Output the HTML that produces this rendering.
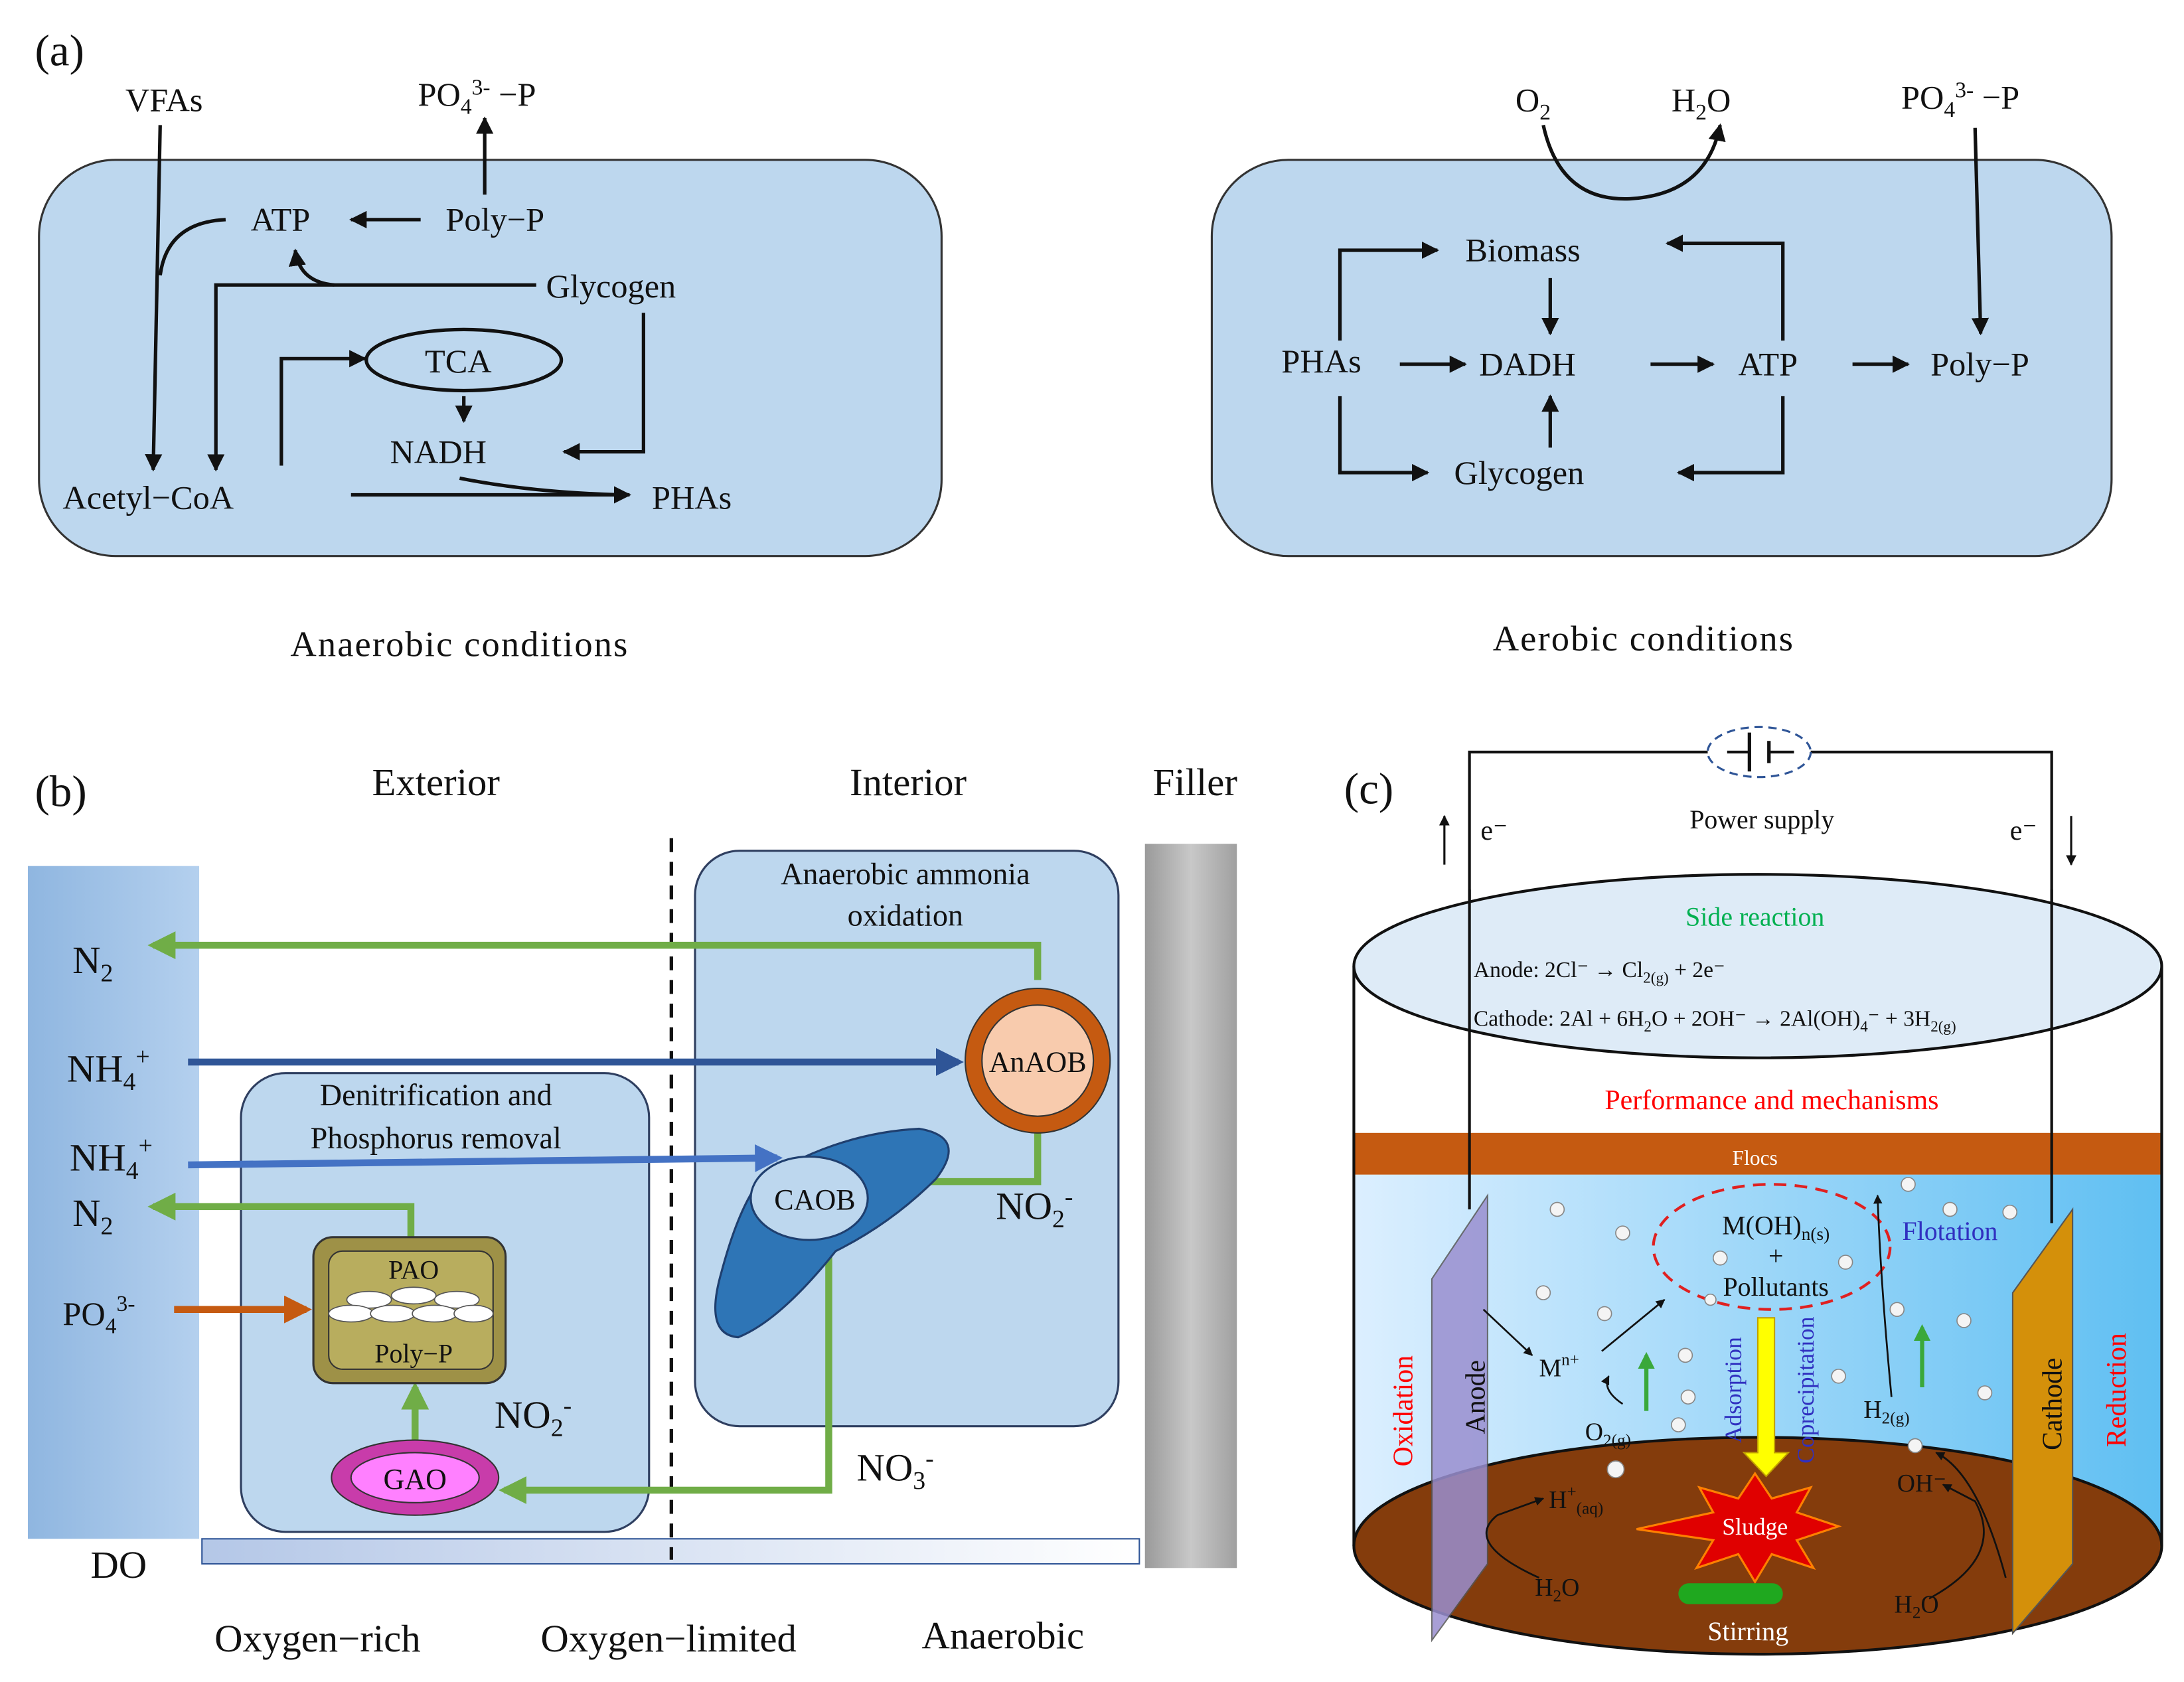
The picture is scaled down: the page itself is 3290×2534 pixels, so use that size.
<!DOCTYPE html>
<html><head><meta charset="utf-8"><style>
html,body{margin:0;padding:0;background:#fff}
svg{display:block}
text{font-family:"Liberation Serif",serif;fill:#111}
</style></head><body>
<svg width="3290" height="2534" viewBox="0 0 1568 1210" preserveAspectRatio="none" xmlns="http://www.w3.org/2000/svg">
<defs>
<marker id="ak" viewBox="0 0 10 10" refX="9" refY="5" markerWidth="5" markerHeight="5" orient="auto"><path d="M0,0L10,5L0,10z" fill="#111"/></marker>
<marker id="ag" viewBox="0 0 10 10" refX="8" refY="5" markerWidth="4" markerHeight="4" orient="auto"><path d="M0,0L10,5L0,10z" fill="#70ad47"/></marker>
<marker id="ab" viewBox="0 0 10 10" refX="8" refY="5" markerWidth="4" markerHeight="4" orient="auto"><path d="M0,0L10,5L0,10z" fill="#2f5597"/></marker>
<marker id="ab2" viewBox="0 0 10 10" refX="8" refY="5" markerWidth="4" markerHeight="4" orient="auto"><path d="M0,0L10,5L0,10z" fill="#4472c4"/></marker>
<marker id="ao" viewBox="0 0 10 10" refX="8" refY="5" markerWidth="4" markerHeight="4" orient="auto"><path d="M0,0L10,5L0,10z" fill="#c55a11"/></marker>
<marker id="agr" viewBox="0 0 10 10" refX="8" refY="5" markerWidth="4" markerHeight="4" orient="auto"><path d="M0,0L10,5L0,10z" fill="#3aa83a"/></marker>
<linearGradient id="lb" x1="0" x2="1"><stop offset="0" stop-color="#8fb6e0"/><stop offset="1" stop-color="#b4d0ee"/></linearGradient>
<linearGradient id="gr" x1="0" x2="1"><stop offset="0" stop-color="#9a9a9a"/><stop offset="0.5" stop-color="#c8c8c8"/><stop offset="1" stop-color="#a0a0a0"/></linearGradient>
<linearGradient id="do" x1="0" x2="1"><stop offset="0" stop-color="#b4c7e7"/><stop offset="1" stop-color="#ffffff"/></linearGradient>
<linearGradient id="wa" x1="0" x2="1"><stop offset="0" stop-color="#dcefff"/><stop offset="1" stop-color="#5fbff2"/></linearGradient>
</defs>

<!-- Panel a -->
<text x="25" y="47" font-size="32">(a)</text>
<rect x="28" y="115" width="648" height="285" rx="55" fill="#bdd7ee" stroke="#333" stroke-width="1.5"/>
<rect x="870" y="115" width="646" height="285" rx="55" fill="#bdd7ee" stroke="#333" stroke-width="1.5"/>
<g font-size="24">
<text x="90" y="80">VFAs</text>
<text x="300" y="76">PO<tspan font-size="16" dy="6">4</tspan><tspan font-size="16" dy="-14">3-</tspan><tspan dy="8"> −P</tspan></text>
<text x="180" y="166">ATP</text>
<text x="320" y="166">Poly−P</text>
<text x="392" y="214">Glycogen</text>
<text x="305" y="268">TCA</text>
<text x="280" y="333">NADH</text>
<text x="45" y="366">Acetyl−CoA</text>
<text x="468" y="366">PHAs</text>
</g>
<ellipse cx="333" cy="259" rx="70" ry="22" fill="none" stroke="#111" stroke-width="2.5"/>
<g stroke="#111" stroke-width="2.5" fill="none" marker-end="url(#ak)">
<path d="M115,90 L110,338"/>
<path d="M348,140 L348,85"/>
<path d="M302,158 L252,158"/>
<path d="M385,205 L155,205 L155,338"/>
<path d="M240,205 Q215,203 212,180"/>
<path d="M462,225 L462,325 L405,325"/>
<path d="M202,335 L202,258 L262,258"/>
<path d="M333,285 L333,303"/>
<path d="M252,356 L452,356"/>
</g>
<path d="M330,344 Q380,354 445,356" stroke="#111" stroke-width="2.5" fill="none"/>
<path d="M162,158 Q120,160 115,198" stroke="#111" stroke-width="2.5" fill="none"/>
<text x="330" y="472" font-size="26" text-anchor="middle" letter-spacing="1">Anaerobic conditions</text>
<text x="1180" y="468" font-size="26" text-anchor="middle" letter-spacing="1">Aerobic conditions</text>

<g font-size="24">
<text x="1088" y="80">O<tspan font-size="16" dy="6">2</tspan></text>
<text x="1200" y="80">H<tspan font-size="16" dy="6">2</tspan><tspan dy="-6">O</tspan></text>
<text x="1365" y="78">PO<tspan font-size="16" dy="6">4</tspan><tspan font-size="16" dy="-14">3-</tspan><tspan dy="8"> −P</tspan></text>
<text x="1052" y="188">Biomass</text>
<text x="1062" y="270">DADH</text>
<text x="1248" y="270">ATP</text>
<text x="1386" y="270">Poly−P</text>
<text x="920" y="268">PHAs</text>
<text x="1044" y="348">Glycogen</text>
</g>
<g stroke="#111" stroke-width="2.5" fill="none" marker-end="url(#ak)">
<path d="M1108,90 Q1120,145 1170,143 Q1225,140 1235,90"/>
<path d="M1418,92 L1422,240"/>
<path d="M1005,262 L1052,262"/>
<path d="M1185,262 L1230,262"/>
<path d="M1330,262 L1370,262"/>
<path d="M1113,200 L1113,240"/>
<path d="M1113,322 L1113,285"/>
<path d="M962,245 L962,180 L1032,180"/>
<path d="M1280,245 L1280,175 L1197,175"/>
<path d="M962,285 L962,340 L1025,340"/>
<path d="M1280,285 L1280,340 L1205,340"/>
</g>

<!-- Panel b -->
<text x="25" y="580" font-size="32">(b)</text>
<g font-size="28">
<text x="313" y="572" text-anchor="middle">Exterior</text>
<text x="652" y="572" text-anchor="middle">Interior</text>
<text x="858" y="572" text-anchor="middle">Filler</text>
<text x="65" y="1135">DO</text>
<text x="228" y="1188" text-anchor="middle">Oxygen−rich</text>
<text x="480" y="1188" text-anchor="middle">Oxygen−limited</text>
<text x="720" y="1186" text-anchor="middle">Anaerobic</text>
</g>
<rect x="20" y="623" width="123" height="484" fill="url(#lb)"/>
<rect x="822" y="607" width="66" height="521" fill="url(#gr)"/>
<rect x="145" y="1107" width="673" height="18" fill="url(#do)" stroke="#2f5597" stroke-width="1"/>
<line x1="482" y1="603" x2="482" y2="1122" stroke="#111" stroke-width="2.5" stroke-dasharray="10,7"/>
<rect x="499" y="612" width="304" height="414" rx="32" fill="#bdd7ee" stroke="#2f3f60" stroke-width="1.5"/>
<rect x="173" y="772" width="293" height="330" rx="32" fill="#bdd7ee" stroke="#2f3f60" stroke-width="1.5"/>
<g font-size="22" text-anchor="middle">
<text x="650" y="636">Anaerobic ammonia</text>
<text x="650" y="666">oxidation</text>
<text x="313" y="795">Denitrification and</text>
<text x="313" y="826">Phosphorus removal</text>
</g>
<g font-size="28">
<text x="52" y="700">N<tspan font-size="18" dy="6">2</tspan></text>
<text x="48" y="778">NH<tspan font-size="18" dy="6">4</tspan><tspan font-size="18" dy="-18">+</tspan></text>
<text x="50" y="842">NH<tspan font-size="18" dy="6">4</tspan><tspan font-size="18" dy="-18">+</tspan></text>
<text x="52" y="882">N<tspan font-size="18" dy="6">2</tspan></text>
<text x="45" y="953" font-size="24">PO<tspan font-size="16" dy="6">4</tspan><tspan font-size="16" dy="-16">3-</tspan></text>
<text x="715" y="877">NO<tspan font-size="18" dy="6">2</tspan><tspan font-size="18" dy="-16">-</tspan></text>
<text x="355" y="1027">NO<tspan font-size="18" dy="6">2</tspan><tspan font-size="18" dy="-16">-</tspan></text>
<text x="615" y="1065">NO<tspan font-size="18" dy="6">3</tspan><tspan font-size="18" dy="-16">-</tspan></text>
</g>
<g fill="none" stroke-width="5">
<path d="M745,705 L745,680 L110,680" stroke="#70ad47" marker-end="url(#ag)"/>
<path d="M135,764 L688,764" stroke="#2f5597" marker-end="url(#ab)"/>
<path d="M135,838 L558,833" stroke="#4472c4" marker-end="url(#ab2)"/>
<path d="M295,890 L295,868 L110,868" stroke="#70ad47" marker-end="url(#ag)"/>
<path d="M125,942 L220,942" stroke="#c55a11" marker-end="url(#ao)"/>
<path d="M298,1036 L298,998" stroke="#70ad47" marker-end="url(#ag)"/>
<path d="M595,885 L595,1072 L362,1072" stroke="#70ad47" marker-end="url(#ag)"/>
<path d="M668,850 L745,850 L745,815" stroke="#70ad47"/>
</g>
<circle cx="745" cy="763" r="52" fill="#c55a11" stroke="#333" stroke-width="1"/>
<circle cx="745" cy="763" r="40" fill="#f8cbad" stroke="#333" stroke-width="1"/>
<text x="745" y="771" font-size="21" text-anchor="middle">AnAOB</text>
<path d="M545,850 Q600,815 660,812 Q695,818 672,848 Q640,880 600,900 Q560,950 530,962 Q505,960 518,915 Q530,870 545,850z" fill="#2e75b6" stroke="#1f3f6f" stroke-width="1.5"/>
<ellipse cx="581" cy="862" rx="42" ry="30" fill="#bdd7ee" stroke="#1f3f6f" stroke-width="1.5"/>
<text x="585" y="870" font-size="21" text-anchor="middle">CAOB</text>
<rect x="225" y="890" width="138" height="105" rx="14" fill="#9e9147" stroke="#333" stroke-width="1.5"/>
<rect x="236" y="900" width="118" height="85" rx="10" fill="#b8ad5e" stroke="#333" stroke-width="1"/>
<text x="297" y="920" font-size="19" text-anchor="middle">PAO</text>
<text x="297" y="980" font-size="19" text-anchor="middle">Poly−P</text>
<g fill="#fff" stroke="#555" stroke-width="0.8">
<ellipse cx="265" cy="935" rx="16" ry="6"/><ellipse cx="297" cy="932" rx="16" ry="6"/><ellipse cx="328" cy="935" rx="16" ry="6"/>
<ellipse cx="252" cy="945" rx="16" ry="6"/><ellipse cx="282" cy="945" rx="16" ry="6"/><ellipse cx="312" cy="945" rx="16" ry="6"/><ellipse cx="340" cy="945" rx="14" ry="6"/>
</g>
<ellipse cx="298" cy="1063" rx="60" ry="27" fill="#c83caa" stroke="#333" stroke-width="1"/>
<ellipse cx="298" cy="1063" rx="46" ry="18" fill="#ff80ff" stroke="#333" stroke-width="1"/>
<text x="298" y="1071" font-size="21" text-anchor="middle">GAO</text>

<!-- Panel c -->
<text x="965" y="578" font-size="32">(c)</text>
<path d="M1055,870 L1055,541 L1240,541 M1288,541 L1473,541 L1473,880" fill="none" stroke="#111" stroke-width="2"/>
<ellipse cx="1263" cy="541" rx="37" ry="18" fill="#fff" stroke="#2f5597" stroke-width="1.5" stroke-dasharray="6,4"/>
<line x1="1256" y1="527" x2="1256" y2="555" stroke="#111" stroke-width="2.5"/>
<line x1="1270" y1="533" x2="1270" y2="549" stroke="#111" stroke-width="2.5"/>
<line x1="1240" y1="541" x2="1256" y2="541" stroke="#111" stroke-width="2"/>
<line x1="1270" y1="541" x2="1288" y2="541" stroke="#111" stroke-width="2"/>
<text x="1265" y="596" font-size="19" text-anchor="middle" font-family="Liberation Sans">Power supply</text>
<text x="1063" y="604" font-size="20">e⁻</text>
<text x="1443" y="604" font-size="20">e⁻</text>
<path d="M1037,622 L1037,587" stroke="#111" stroke-width="1.5" marker-end="url(#ak)"/>
<path d="M1487,587 L1487,622" stroke="#111" stroke-width="1.5" marker-end="url(#ak)"/>
<rect x="972" y="695" width="580" height="420" fill="#fff"/>
<rect x="972" y="845" width="580" height="267" fill="url(#wa)"/>
<rect x="972" y="815" width="580" height="30" fill="#c55a11"/>
<ellipse cx="1262" cy="1112" rx="290" ry="78" fill="#843c0c" stroke="#111" stroke-width="2"/>
<line x1="972" y1="695" x2="972" y2="1112" stroke="#111" stroke-width="2"/>
<line x1="1552" y1="695" x2="1552" y2="1112" stroke="#111" stroke-width="2"/>
<ellipse cx="1262" cy="695" rx="290" ry="66" fill="#deebf7" stroke="#111" stroke-width="2"/>
<line x1="1055" y1="640" x2="1055" y2="870" stroke="#111" stroke-width="2"/>
<line x1="1473" y1="640" x2="1473" y2="880" stroke="#111" stroke-width="2"/>
<text x="1260" y="666" font-size="19" text-anchor="middle" style="fill:#00b050">Side reaction</text>
<text x="1058" y="703" font-size="16">Anode: 2Cl⁻ → Cl<tspan font-size="11" dy="4">2(g)</tspan><tspan dy="-4"> + 2e⁻</tspan></text>
<text x="1058" y="738" font-size="16">Cathode: 2Al + 6H<tspan font-size="11" dy="4">2</tspan><tspan dy="-4">O + 2OH⁻ → 2Al(OH)</tspan><tspan font-size="11" dy="4">4</tspan><tspan dy="-4">⁻ + 3H</tspan><tspan font-size="11" dy="4">2(g)</tspan></text>
<text x="1272" y="798" font-size="20" text-anchor="middle" style="fill:#ff0000">Performance and mechanisms</text>
<text x="1260" y="838" font-size="15" text-anchor="middle" style="fill:#fff">Flocs</text>
<polygon points="1028,920 1068,860 1068,1125 1028,1180" fill="#9a8fd0" stroke="#555" stroke-width="1" opacity="0.85"/>
<polygon points="1445,930 1488,870 1488,1125 1445,1175" fill="#d4900a" stroke="#555" stroke-width="1"/>
<text transform="translate(1014,1015) rotate(-90)" font-size="20" text-anchor="middle" style="fill:#ff0000">Oxidation</text>
<text transform="translate(1066,1005) rotate(-90)" font-size="20" text-anchor="middle">Anode</text>
<text transform="translate(1480,1010) rotate(-90)" font-size="20" text-anchor="middle">Cathode</text>
<text transform="translate(1526,1000) rotate(-90)" font-size="20" text-anchor="middle" style="fill:#ff0000">Reduction</text>
<ellipse cx="1272" cy="897" rx="85" ry="45" fill="none" stroke="#e02020" stroke-width="2" stroke-dasharray="9,6"/>
<text x="1275" y="888" font-size="19" text-anchor="middle">M(OH)<tspan font-size="13" dy="4">n(s)</tspan></text>
<text x="1275" y="910" font-size="19" text-anchor="middle">+</text>
<text x="1275" y="932" font-size="19" text-anchor="middle">Pollutants</text>
<text x="1400" y="892" font-size="19" text-anchor="middle" style="fill:#3030c0">Flotation</text>
<polygon points="1262,948 1274,948 1274,1045 1284,1045 1268,1062 1252,1045 1262,1045" fill="#ffff00" stroke="#c0a000" stroke-width="1"/>
<polygon points="1260,1060 1272,1078 1300,1070 1290,1088 1320,1098 1290,1108 1302,1128 1272,1118 1260,1138 1248,1118 1218,1128 1230,1108 1175,1100 1230,1088 1220,1070 1248,1078" fill="#e00000" stroke="#ff8000" stroke-width="1.5"/>
<text x="1260" y="1104" font-size="17" text-anchor="middle" style="fill:#fff">Sludge</text>
<rect x="1205" y="1139" width="75" height="15" rx="7.5" fill="#1fa81f"/>
<text x="1255" y="1180" font-size="19" text-anchor="middle" style="fill:#fff">Stirring</text>
<text transform="translate(1250,1000) rotate(-90)" font-size="17" text-anchor="middle" style="fill:#3030c0">Adsorption</text>
<text transform="translate(1302,1000) rotate(-90)" font-size="17" text-anchor="middle" style="fill:#3030c0">Coprecipitation</text>
<g font-size="18">
<text x="1105" y="990">M<tspan font-size="12" dy="-8">n+</tspan></text>
<text x="1138" y="1036">O<tspan font-size="12" dy="4">2(g)</tspan></text>
<text x="1112" y="1085">H<tspan font-size="12" dy="-8">+</tspan><tspan font-size="12" dy="12">(aq)</tspan></text>
<text x="1102" y="1148">H<tspan font-size="12" dy="4">2</tspan><tspan dy="-4">O</tspan></text>
<text x="1338" y="1020">H<tspan font-size="12" dy="4">2(g)</tspan></text>
<text x="1362" y="1073">OH⁻</text>
<text x="1360" y="1160">H<tspan font-size="12" dy="4">2</tspan><tspan dy="-4">O</tspan></text>
</g>
<g stroke="#111" stroke-width="1.3" fill="none" marker-end="url(#ak)">
<path d="M1065,942 L1100,975"/>
<path d="M1150,972 L1195,935"/>
<path d="M1165,1010 Q1150,1000 1155,990"/>
<path d="M1105,1135 Q1050,1110 1075,1090 L1108,1078"/>
<path d="M1358,1005 Q1350,920 1348,860"/>
<path d="M1440,1135 Q1420,1060 1390,1045"/>
<path d="M1385,1150 Q1440,1120 1418,1080 L1395,1068"/>
</g>
<path d="M1182,1015 L1182,975" stroke="#3aa83a" stroke-width="3" marker-end="url(#agr)"/>
<path d="M1380,998 L1380,955" stroke="#3aa83a" stroke-width="3" marker-end="url(#agr)"/>
<g fill="#f4f4f4" stroke="#888" stroke-width="0.8">
<circle cx="1118" cy="870" r="5"/><circle cx="1165" cy="887" r="5"/><circle cx="1108" cy="930" r="5"/><circle cx="1152" cy="945" r="5"/>
<circle cx="1210" cy="975" r="5"/><circle cx="1212" cy="1005" r="5"/><circle cx="1205" cy="1025" r="5"/><circle cx="1235" cy="905" r="5"/>
<circle cx="1325" cy="908" r="5"/><circle cx="1362" cy="942" r="5"/><circle cx="1410" cy="950" r="5"/><circle cx="1425" cy="1002" r="5"/>
<circle cx="1400" cy="870" r="5"/><circle cx="1443" cy="872" r="5"/><circle cx="1370" cy="852" r="5"/><circle cx="1320" cy="990" r="5"/>
<circle cx="1375" cy="1040" r="5"/><circle cx="1160" cy="1057" r="6"/><circle cx="1228" cy="935" r="4"/>
</g>
</svg>
</body></html>
